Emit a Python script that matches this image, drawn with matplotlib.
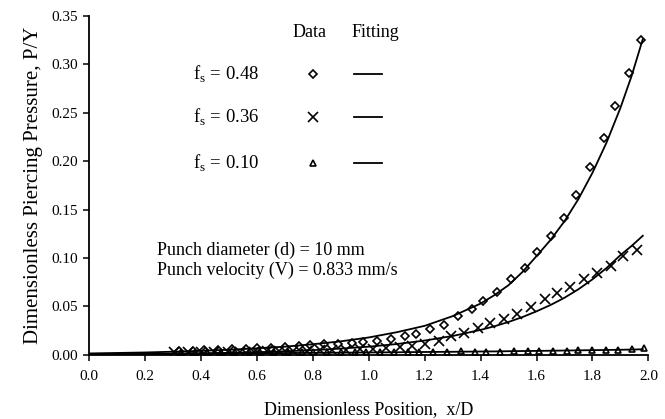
import matplotlib

matplotlib.use("Agg")
import matplotlib.pyplot as plt

plt.rcParams["font.family"] = ["Liberation Serif", "DejaVu Serif"]
plt.rcParams["mathtext.fontset"] = "custom"
plt.rcParams["mathtext.rm"] = "Liberation Serif"

# measured points, f_s = 0.48 (diamonds)
x_048 = [0.32, 0.37, 0.41, 0.46, 0.51, 0.56, 0.60, 0.65, 0.70, 0.75, 0.79, 0.84,
         0.89, 0.94, 0.98, 1.03, 1.08, 1.13, 1.17, 1.22, 1.27, 1.32, 1.37, 1.41,
         1.46, 1.51, 1.56, 1.60, 1.65, 1.70, 1.74, 1.79, 1.84, 1.88, 1.93, 1.975]
y_048 = [0.004, 0.004, 0.005, 0.005, 0.006, 0.006, 0.007, 0.007, 0.008, 0.009, 0.010, 0.011,
         0.0115, 0.012, 0.013, 0.014, 0.016, 0.019, 0.022, 0.027, 0.031, 0.040, 0.047, 0.056,
         0.065, 0.078, 0.090, 0.106, 0.123, 0.141, 0.165, 0.194, 0.224, 0.257, 0.291, 0.325]

# f_s = 0.36 (crosses)
x_036 = [0.305, 0.352, 0.40, 0.447, 0.495, 0.54, 0.59, 0.635, 0.68, 0.73, 0.78, 0.825,
         0.87, 0.92, 0.97, 1.015, 1.06, 1.11, 1.155, 1.20, 1.25, 1.295, 1.34, 1.39,
         1.435, 1.485, 1.53, 1.58, 1.63, 1.675, 1.72, 1.77, 1.815, 1.865, 1.91, 1.96]
y_036 = [0.003, 0.003, 0.003, 0.003, 0.003, 0.003, 0.003, 0.004, 0.004, 0.004, 0.004, 0.005,
         0.005, 0.005, 0.006, 0.006, 0.007, 0.008, 0.009, 0.011, 0.0145, 0.019, 0.023, 0.0276,
         0.0327, 0.037, 0.0424, 0.049, 0.0575, 0.0637, 0.0706, 0.078, 0.0844, 0.092, 0.1016, 0.1085]

# f_s = 0.10 (triangles)
x_010 = [0.33, 0.38, 0.42, 0.47, 0.52, 0.57, 0.61, 0.66, 0.71, 0.76, 0.80, 0.85,
         0.90, 0.95, 0.99, 1.04, 1.09, 1.14, 1.18, 1.23, 1.28, 1.33, 1.38, 1.42,
         1.47, 1.52, 1.57, 1.61, 1.66, 1.71, 1.75, 1.80, 1.85, 1.89, 1.94, 1.985]
y_010 = [0.003, 0.003, 0.003, 0.003, 0.003, 0.003, 0.003, 0.003, 0.003, 0.003, 0.003, 0.003,
         0.003, 0.003, 0.003, 0.003, 0.003, 0.003, 0.003, 0.003, 0.003, 0.004, 0.003, 0.003,
         0.003, 0.004, 0.004, 0.004, 0.004, 0.004, 0.005, 0.005, 0.005, 0.005, 0.006, 0.007]

# fitted curves
fit_x = [0.0, 0.1, 0.2, 0.3, 0.4, 0.5, 0.6, 0.7, 0.8, 0.9, 1.0, 1.1, 1.2, 1.3, 1.4,
         1.45, 1.5, 1.55, 1.6, 1.65, 1.7, 1.75, 1.8, 1.85, 1.9, 1.94, 1.98]
fit_048 = [0.0015, 0.002, 0.0025, 0.0033, 0.0042, 0.0053, 0.0068, 0.0085, 0.011, 0.014, 0.018,
           0.0234, 0.030, 0.040, 0.053,
           0.0618, 0.072, 0.0857, 0.102, 0.1186, 0.138, 0.161, 0.188, 0.219, 0.255, 0.288, 0.326]
fit_036 = [0.0005, 0.0007, 0.0009, 0.0012, 0.0016, 0.0021, 0.0028, 0.0037, 0.0049, 0.0065, 0.0085,
           0.0112, 0.0148, 0.0195, 0.0258,
           0.0296, 0.034, 0.0391, 0.045, 0.0515, 0.059, 0.0678, 0.078, 0.0896, 0.103, 0.1125, 0.123]
fit_010 = [0.001, 0.001, 0.0011, 0.0012, 0.0013, 0.0015, 0.0017, 0.0019, 0.0021, 0.0023, 0.0025,
           0.0027, 0.003, 0.0032, 0.0035,
           0.0036, 0.0038, 0.0040, 0.0041, 0.0043, 0.0045, 0.0047, 0.0049, 0.0051, 0.0053, 0.0055, 0.0058]

labels = ["0.48", "0.36", "0.10"]
markers = ["D", "x", "^"]
msizes = [4.5, 6.5, 5]

fig = plt.figure(figsize=(6.65, 4.19), dpi=100)
ax = fig.add_axes([0.134, 0.153, 0.841, 0.809])

series = [(x_048, y_048, fit_048), (x_036, y_036, fit_036), (x_010, y_010, fit_010)]
for (xs, ys, fy), m, ms in zip(series, markers, msizes):
    ax.plot(fit_x, fy, color="black", lw=1.3)
    ax.plot(xs, ys, ls="none", marker=m, ms=ms, mfc="none", mec="black", mew=1.2)

ax.set_xlim(0, 2.0)
ax.set_ylim(0, 0.35)
ax.set_xticks([i / 10 for i in range(0, 21, 2)])
ax.set_xticklabels([f"{i / 10:.1f}" for i in range(0, 21, 2)])
ax.set_yticks([i * 0.05 for i in range(8)])
ax.set_yticklabels([f"{i * 0.05:.2f}" for i in range(8)])
ax.tick_params(direction="out", length=4, width=1.1, labelsize=11)
ax.tick_params(axis="x", pad=7)
ax.tick_params(axis="y", pad=4)
for s in ["top", "right"]:
    ax.spines[s].set_visible(False)
for s in ["left", "bottom"]:
    ax.spines[s].set_linewidth(1.3)

ax.set_xlabel("Dimensionless Position,  x/D", fontsize=13, labelpad=13)
ax.set_ylabel("Dimensionless Piercing Pressure, P/Y", fontsize=15, labelpad=6)

# hand-made legend
ax.text(0.394, 0.950, "Data", transform=ax.transAxes, ha="center", va="center", fontsize=13)
ax.text(0.512, 0.950, "Fitting", transform=ax.transAxes, ha="center", va="center", fontsize=13)
rows = [0.829, 0.702, 0.566]
for lab, m, ms, ry in zip(labels, markers, msizes, rows):
    ax.text(0.304, ry, r"f$_\mathregular{s}$ = " + lab, transform=ax.transAxes,
            ha="right", va="center", fontsize=13.5)
    ax.plot([0.401], [ry], transform=ax.transAxes, ls="none", marker=m, ms=ms,
            mfc="none", mec="black", mew=1.2)
    ax.plot([0.474, 0.524], [ry, ry], transform=ax.transAxes, color="black", lw=1.3)

ax.text(0.122, 0.28, "Punch diameter (d) = 10 mm\nPunch velocity (V) = 0.833 mm/s",
        transform=ax.transAxes, ha="left", va="center", fontsize=13, linespacing=1.2)

fig.savefig("out.png", dpi=100)
